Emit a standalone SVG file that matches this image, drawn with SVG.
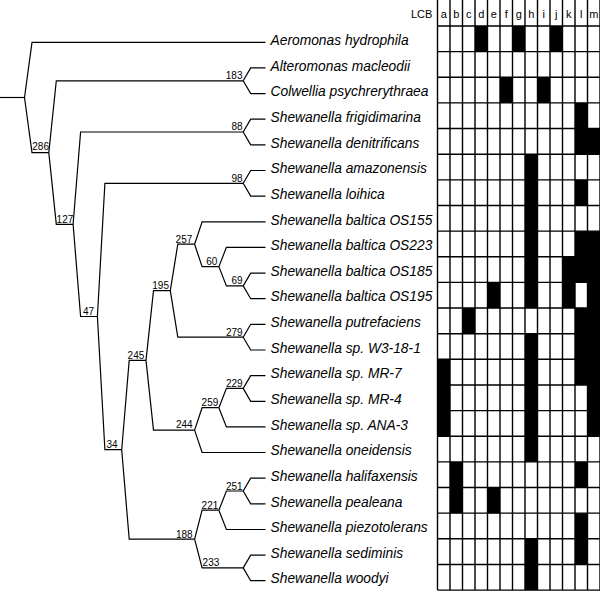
<svg xmlns="http://www.w3.org/2000/svg" width="600" height="591" viewBox="0 0 600 591">
<style>
.br{fill:none;stroke:#000;stroke-width:1.2;stroke-linejoin:miter}
.sp{font-family:"Liberation Sans",Arial,sans-serif;font-style:italic;font-size:13.8px;fill:#000}
.bs{font-family:"Liberation Sans",Arial,sans-serif;font-size:10px;fill:#000;text-anchor:end}
.hd{font-family:"Liberation Sans",Arial,sans-serif;font-size:11px;fill:#000;text-anchor:middle}
.gl{fill:none;stroke:#000;stroke-width:1.4}
.bk{fill:#000}
</style>
<rect width="600" height="591" fill="#fff"/>
<g id="connectors">
<path class="br" d="M0 97.5H24.5"/>
<path class="br" d="M24.5 97.5L32 42.3H265.5M24.5 97.5L32 152.6H48.8"/>
<path class="br" d="M48.8 152.6L56.3 80.8H243.2M48.8 152.6L56.3 224.3H73.1"/>
<path class="br" d="M73.1 224.3L80.6 132H243.2M73.1 224.3L80.6 316.5H97.4"/>
<path class="br" d="M97.4 316.5L104.9 183.3H243.2M97.4 316.5L104.9 449.7H121.7"/>
<path class="br" d="M121.7 449.7L129.2 360.4H146M121.7 449.7L129.2 539.1H194.6"/>
<path class="br" d="M146 360.4L153.5 290.7H170.3M146 360.4L153.5 430.1H194.6"/>
<path class="br" d="M170.3 290.7L177.8 244.2H194.6M170.3 290.7L177.8 337.2H243.2"/>
<path class="br" d="M194.6 244.2L202.1 221.8H265.5M194.6 244.2L202.1 266.6H218.9"/>
<path class="br" d="M218.9 266.6L226.4 247.4H265.5M218.9 266.6L226.4 285.9H243.2"/>
<path class="br" d="M243.2 285.9L250.7 273.1H265.5M243.2 285.9L250.7 298.7H265.5"/>
<path class="br" d="M243.2 337.2L250.7 324.3H265.5M243.2 337.2L250.7 350H265.5"/>
<path class="br" d="M243.2 183.3L250.7 170.5H265.5M243.2 183.3L250.7 196.1H265.5"/>
<path class="br" d="M243.2 132L250.7 119.2H265.5M243.2 132L250.7 144.9H265.5"/>
<path class="br" d="M243.2 80.8L250.7 67.9H265.5M243.2 80.8L250.7 93.6H265.5"/>
<path class="br" d="M194.6 430.1L202.1 407.7H218.9M194.6 430.1L202.1 452.5H265.5"/>
<path class="br" d="M218.9 407.7L226.4 388.4H243.2M218.9 407.7L226.4 426.9H265.5"/>
<path class="br" d="M243.2 388.4L250.7 375.6H265.5M243.2 388.4L250.7 401.3H265.5"/>
<path class="br" d="M194.6 539.1L202.1 510.2H218.9M194.6 539.1L202.1 567.9H243.2"/>
<path class="br" d="M218.9 510.2L226.4 491H243.2M218.9 510.2L226.4 529.5H265.5"/>
<path class="br" d="M243.2 491L250.7 478.2H265.5M243.2 491L250.7 503.8H265.5"/>
<path class="br" d="M243.2 567.9L250.7 555.1H265.5M243.2 567.9L250.7 580.7H265.5"/>
</g>
<g id="internal-nodes">
<g id="n183"><text class="bs" x="242.5" y="78.8">183</text></g>
<g id="n286"><text class="bs" x="49" y="150.2">286</text></g>
<g id="n88"><text class="bs" x="242.5" y="130.3">88</text></g>
<g id="n127"><text class="bs" x="73.3" y="222.6">127</text></g>
<g id="n98"><text class="bs" x="242.7" y="181.5">98</text></g>
<g id="n47"><text class="bs" x="94" y="314.6">47</text></g>
<g id="n257"><text class="bs" x="192.3" y="242.6">257</text></g>
<g id="n60"><text class="bs" x="217.3" y="265">60</text></g>
<g id="n69"><text class="bs" x="242.7" y="284.4">69</text></g>
<g id="n195"><text class="bs" x="169" y="289.2">195</text></g>
<g id="n279"><text class="bs" x="242.7" y="335.7">279</text></g>
<g id="n245"><text class="bs" x="144.3" y="358.6">245</text></g>
<g id="n34"><text class="bs" x="117.7" y="448">34</text></g>
<g id="n229"><text class="bs" x="242.7" y="386.8">229</text></g>
<g id="n259"><text class="bs" x="218.3" y="406.2">259</text></g>
<g id="n244"><text class="bs" x="192.7" y="428.4">244</text></g>
<g id="n251"><text class="bs" x="242.7" y="489.5">251</text></g>
<g id="n221"><text class="bs" x="218.3" y="508.6">221</text></g>
<g id="n188"><text class="bs" x="192.7" y="537.6">188</text></g>
<g id="n233"><text class="bs" x="219.3" y="566.4">233</text></g>
</g>
<g id="leaves">
<g id="l0"><text class="sp" x="270.5" y="45">Aeromonas hydrophila</text></g>
<g id="l1"><text class="sp" x="270.5" y="70.6">Alteromonas macleodii</text></g>
<g id="l2"><text class="sp" x="270.5" y="96.3">Colwellia psychrerythraea</text></g>
<g id="l3"><text class="sp" x="270.5" y="121.9">Shewanella frigidimarina</text></g>
<g id="l4"><text class="sp" x="270.5" y="147.6">Shewanella denitrificans</text></g>
<g id="l5"><text class="sp" x="270.5" y="173.2">Shewanella amazonensis</text></g>
<g id="l6"><text class="sp" x="270.5" y="198.8">Shewanella loihica</text></g>
<g id="l7"><text class="sp" x="270.5" y="224.5">Shewanella baltica OS155</text></g>
<g id="l8"><text class="sp" x="270.5" y="250.1">Shewanella baltica OS223</text></g>
<g id="l9"><text class="sp" x="270.5" y="275.8">Shewanella baltica OS185</text></g>
<g id="l10"><text class="sp" x="270.5" y="301.4">Shewanella baltica OS195</text></g>
<g id="l11"><text class="sp" x="270.5" y="327">Shewanella putrefaciens</text></g>
<g id="l12"><text class="sp" x="270.5" y="352.7">Shewanella sp. W3-18-1</text></g>
<g id="l13"><text class="sp" x="270.5" y="378.3">Shewanella sp. MR-7</text></g>
<g id="l14"><text class="sp" x="270.5" y="404">Shewanella sp. MR-4</text></g>
<g id="l15"><text class="sp" x="270.5" y="429.6">Shewanella sp. ANA-3</text></g>
<g id="l16"><text class="sp" x="270.5" y="455.2">Shewanella oneidensis</text></g>
<g id="l17"><text class="sp" x="270.5" y="480.9">Shewanella halifaxensis</text></g>
<g id="l18"><text class="sp" x="270.5" y="506.5">Shewanella pealeana</text></g>
<g id="l19"><text class="sp" x="270.5" y="532.2">Shewanella piezotolerans</text></g>
<g id="l20"><text class="sp" x="270.5" y="557.8">Shewanella sediminis</text></g>
<g id="l21"><text class="sp" x="270.5" y="583.4">Shewanella woodyi</text></g>
</g>
<g id="lcb-table">
<g id="cells">
<rect class="bk" x="475" y="26" width="12.5" height="25.64"/>
<rect class="bk" x="512.5" y="26" width="12.5" height="25.64"/>
<rect class="bk" x="550" y="26" width="12.5" height="25.64"/>
<rect class="bk" x="500" y="77.28" width="12.5" height="25.64"/>
<rect class="bk" x="537.5" y="77.28" width="12.5" height="25.64"/>
<rect class="bk" x="575" y="102.92" width="12.5" height="25.64"/>
<rect class="bk" x="575" y="128.56" width="25" height="25.64"/>
<rect class="bk" x="525" y="154.2" width="12.5" height="153.84"/>
<rect class="bk" x="575" y="179.84" width="12.5" height="25.64"/>
<rect class="bk" x="575" y="231.12" width="25" height="51.28"/>
<rect class="bk" x="562.5" y="256.76" width="12.5" height="51.28"/>
<rect class="bk" x="587.5" y="282.4" width="12.5" height="25.64"/>
<rect class="bk" x="487.5" y="282.4" width="12.5" height="25.64"/>
<rect class="bk" x="462.5" y="308.04" width="12.5" height="25.64"/>
<rect class="bk" x="575" y="308.04" width="25" height="76.92"/>
<rect class="bk" x="587.5" y="384.96" width="12.5" height="51.28"/>
<rect class="bk" x="525" y="333.68" width="12.5" height="128.2"/>
<rect class="bk" x="437.5" y="359.32" width="12.5" height="76.92"/>
<rect class="bk" x="450" y="461.88" width="12.5" height="51.28"/>
<rect class="bk" x="575" y="461.88" width="12.5" height="25.64"/>
<rect class="bk" x="487.5" y="487.52" width="12.5" height="25.64"/>
<rect class="bk" x="575" y="513.16" width="12.5" height="51.28"/>
<rect class="bk" x="525" y="538.8" width="12.5" height="51.28"/>
</g>
<g id="grid">
<path class="gl" d="M437.5 0V590.1M450 0V590.1M462.5 0V590.1M475 0V590.1M487.5 0V590.1M500 0V590.1M512.5 0V590.1M525 0V590.1M537.5 0V590.1M550 0V590.1M562.5 0V590.1M575 0V590.1M587.5 0V590.1M600 0V590.1"/>
<path class="gl" d="M437.5 26H600M437.5 51.64H600M437.5 77.28H600M437.5 102.92H600M437.5 128.56H600M437.5 154.2H600M437.5 179.84H600M437.5 205.48H600M437.5 231.12H600M437.5 256.76H600M437.5 282.4H600M437.5 308.04H600M437.5 333.68H600M437.5 359.32H600M437.5 384.96H600M437.5 410.6H600M437.5 436.24H600M437.5 461.88H600M437.5 487.52H600M437.5 513.16H600M437.5 538.8H600M437.5 564.44H600M437.5 590.08H600"/>
</g>
<g id="header">
<text x="432.3" y="17.5" font-family="Liberation Sans, Arial, sans-serif" font-size="11" text-anchor="end">LCB</text>
<text class="hd" x="443.75" y="18">a</text>
<text class="hd" x="456.25" y="18">b</text>
<text class="hd" x="468.75" y="18">c</text>
<text class="hd" x="481.25" y="18">d</text>
<text class="hd" x="493.75" y="18">e</text>
<text class="hd" x="506.25" y="18">f</text>
<text class="hd" x="518.75" y="18">g</text>
<text class="hd" x="531.25" y="18">h</text>
<text class="hd" x="543.75" y="18">i</text>
<text class="hd" x="556.25" y="18">j</text>
<text class="hd" x="568.75" y="18">k</text>
<text class="hd" x="581.25" y="18">l</text>
<text class="hd" x="593.75" y="18">m</text>
</g>
</g>
</svg>
